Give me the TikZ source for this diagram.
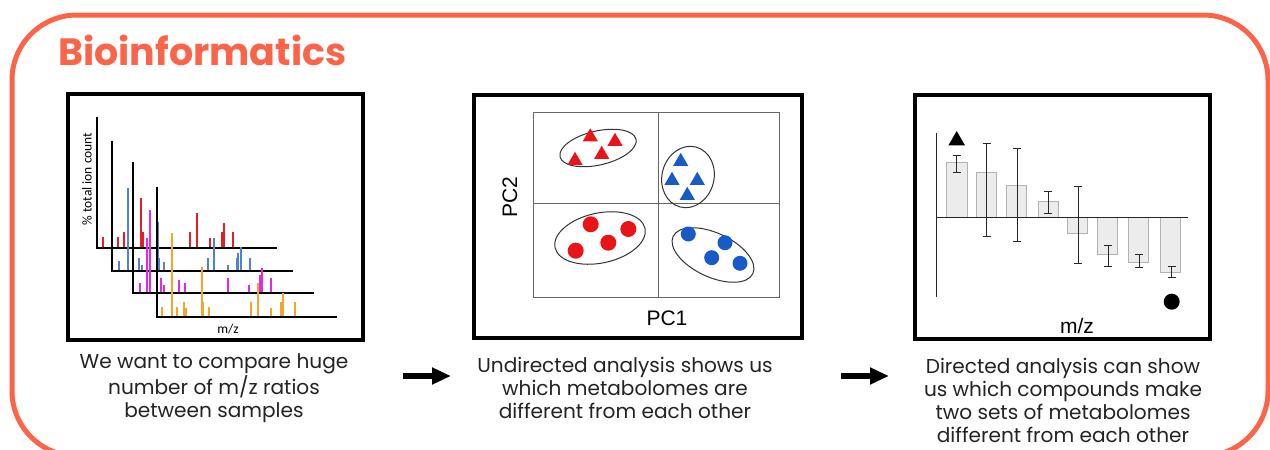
\documentclass[tikz,border=0pt]{standalone}
\usepackage{fontspec}
\usetikzlibrary{arrows.meta,shapes.geometric}
\setmainfont{Poppins}
\newfontfamily\arialf{Liberation Sans}
\newfontfamily\calf{Carlito}
\definecolor{brand}{RGB}{250,100,72}
\definecolor{specred}{RGB}{228,30,36}
\definecolor{specblue}{RGB}{80,130,210}
\definecolor{specmag}{RGB}{228,40,228}
\definecolor{specora}{RGB}{245,165,40}
\definecolor{ptred}{RGB}{232,20,24}
\definecolor{ptblue}{RGB}{24,90,200}
\definecolor{captxt}{RGB}{35,35,35}
\tikzset{
  panelbox/.style={draw=black,line width=4pt},
  caption/.style={align=center,text=captxt,font=\fontsize{20.1}{23}\selectfont,inner sep=0pt},
  flowarrow/.style={line width=6pt,-{Triangle[length=19pt,width=16pt]}},
  specaxis/.style={line width=2pt,black},
  peak/.style={line width=2pt},
  pcline/.style={draw=gray!80!black,line width=1pt},
  grpell/.style={draw=gray!40!black,line width=1pt},
  tri/.style={regular polygon,regular polygon sides=3,minimum size=17.5pt,inner sep=0pt},
  dot/.style={circle,minimum size=16pt,inner sep=0pt},
  bar/.style={draw=gray!60,fill=gray!15,line width=1pt},
  errbar/.style={draw=gray!30!black,line width=1pt},
  plotlbl/.style={font=\arialf\fontsize{21}{21}\selectfont,inner sep=0pt},
}
\begin{document}
\begin{tikzpicture}[x=1pt,y=-1pt]
\useasboundingbox (0,0) rectangle (1270,450);
\begin{scope}
\clip (0,0) rectangle (1270,450);
% outer frame
\draw[brand,line width=5pt,rounded corners=65pt] (12,15) rectangle (1268,456);
\node[anchor=base west,inner sep=0pt,text=brand,font=\bfseries\fontsize{38}{42}\selectfont] (title) at (58,65) {Bioinformatics};

% ---------------- panel 1
\node[panelbox,minimum width=295pt,minimum height=246pt,inner sep=0pt] (box1) at (215.5,217) {};
% spectra
\foreach \ax/\tp/\bs/\rt/\col/\pk in {
  96.7/116.7/248.3/276.7/specred/{102.7/236.7,117.7/236.7,124.3/231.7,112.3/165,141/197.7,143.3/231.7,190/231.7,196.7/213.3,210/238.3,221.7/231.7,224/222.7,233.3/231.7},
  112.3/141/271/292.7/specblue/{119.3/261,128.3/188.3,139.3/257.7,142.3/265,157.7/221.7,159/257.7,164.3/261.7,207.7/257.7,214/238.3,227.7/265,236.7/257.7,238.3/253.3,240.7/246.7,250/257.7},
  133.3/161.7/292.7/314.3/specmag/{140/283.3,147/238,150/210,161/278.3,164/285,179.3/280,185/283.3,228.3/278.3,249/285,260/275,261.7/268.3,271/278.3},
  156.7/186.7/316.7/336.7/specora/{162.3/306.7,171.7/233.3,177.3/306.7,184/301.7,186/308.3,201.7/266.7,202.7/301.7,209/306.7,251/301.7,257.7/283.3,270.7/308.3,281/301.7,283.3/293.3,295/301.7}}
{
  \foreach \px/\pt in \pk { \draw[peak,\col] (\px,\bs) -- (\px,\pt); }
  \draw[specaxis] (\ax,\tp) -- (\ax,\bs) -- (\rt,\bs);
}
\node[rotate=90,font=\calf\fontsize{13.5}{14}\selectfont,inner sep=0pt] (ylab1) at (87,179) {\% total ion count};
\node[font=\calf\fontsize{13.5}{14}\selectfont,inner sep=0pt] (xlab1) at (228,329) {m/z};

% ---------------- panel 2
\node[panelbox,minimum width=328pt,minimum height=243pt,inner sep=0pt] (box2) at (638,216.5) {};
\draw[pcline] (533,112) rectangle (779,297);
\draw[pcline] (658,112) -- (658,297);
\draw[pcline] (533,203) -- (779,203);
\draw[grpell,rotate around={13:(598,148)}] (598,148) ellipse [x radius=39,y radius=17];
\draw[grpell,rotate around={-15:(688,177)}] (688,177) ellipse [x radius=26,y radius=31];
\draw[grpell,rotate around={12:(600,238)}] (600,238) ellipse [x radius=46,y radius=25];
\draw[grpell,rotate around={-25:(713,255)}] (713,255) ellipse [x radius=44,y radius=22];
\foreach \n/\px/\py in {a/590.3/137,b/615/141.5,c/601.7/154.5,d/575/160.5}
  \node[tri,fill=ptred] (rt\n) at (\px,\py) {};
\foreach \n/\px/\py in {a/680.7/161.5,b/672/180.5,c/697.3/180.5,d/687.3/195.5}
  \node[tri,fill=ptblue] (bt\n) at (\px,\py) {};
\foreach \n/\px/\py in {a/590.7/224.3,b/628.3/229,c/608.3/242.7,d/575.7/250.7}
  \node[dot,fill=ptred] (rc\n) at (\px,\py) {};
\foreach \n/\px/\py in {a/688.3/234,b/725/242.7,c/711.7/257.7,d/740/263.3}
  \node[dot,minimum size=15pt,fill=ptblue] (bc\n) at (\px,\py) {};
\node[plotlbl,rotate=90] (pc2) at (510,197) {PC2};
\node[plotlbl] (pc1) at (667,318) {PC1};

% ---------------- panel 3
\node[panelbox,minimum width=295pt,minimum height=244pt,inner sep=0pt] (box3) at (1062.5,217) {};
\draw[line width=1pt,gray!30!black] (936.7,133.3) -- (936.7,296.7);
\foreach \xl/\xr/\v/\ex/\et/\eb in {
  946/967.3/162.7/956.7/155/172.3,
  976.7/996.7/172.3/986.7/143.3/236.7,
  1006.7/1026.7/185/1017.3/148.3/241.7,
  1038.3/1058.3/201/1048.3/191/213.3,
  1067.7/1087.7/233.3/1078.3/186.7/263.3,
  1097.7/1117.7/254.3/1108.3/245/266,
  1128.3/1148.3/262.3/1139/254.3/267.3,
  1160/1180/272.7/1171.7/266/277.7}
{
  \draw[bar] (\xl,217.3) rectangle (\xr,\v);
  \draw[errbar] (\ex,\et) -- (\ex,\eb) (\ex-4,\et) -- (\ex+4,\et) (\ex-4,\eb) -- (\ex+4,\eb);
}
\draw[line width=1pt,gray!30!black] (936.7,217.3) -- (1188.3,217.3);
\node[tri,minimum size=19pt,fill=black] (btri) at (956.7,140.5) {};
\node[dot,fill=black] (bdot) at (1171.7,301.7) {};
\node[plotlbl] (mz3) at (1077,326) {m/z};

% ---------------- captions
\node[caption] (cap1) at (214,388) {We want to compare huge\\number of m/z ratios\\between samples};
\node[caption] (cap2) at (625,388) {Undirected analysis shows us\\which metabolomes are\\different from each other};
\node[caption] (cap3) at (1063,400) {Directed analysis can show\\us which compounds make\\two sets of metabolomes\\different from each other};
\coordinate (a1s) at (403,376);
\coordinate (a1e) at (451,376);
\coordinate (a2s) at (841,376);
\coordinate (a2e) at (889,376);
\draw[flowarrow] (a1s) -- (a1e);
\draw[flowarrow] (a2s) -- (a2e);
\end{scope}
\end{tikzpicture}
\end{document}
